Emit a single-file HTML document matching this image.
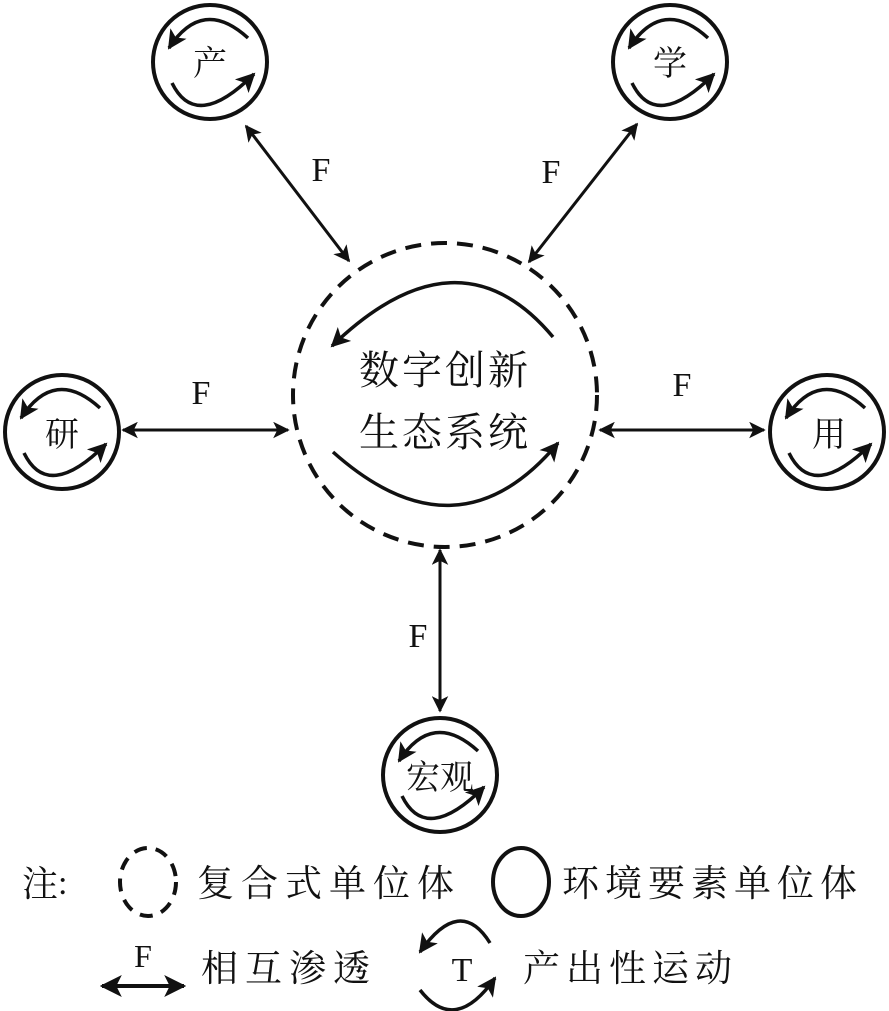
<!DOCTYPE html>
<html><head><meta charset="utf-8"><style>
html,body{margin:0;padding:0;background:#fff;}
svg{display:block;}
text{font-family:"Liberation Serif","Noto Serif CJK SC","Noto Sans CJK SC",serif;fill:#111;}
</style></head><body>
<svg width="889" height="1011" viewBox="0 0 889 1011" xmlns="http://www.w3.org/2000/svg">
<defs>
<marker id="ah" viewBox="0 0 10 10" refX="9" refY="5" markerWidth="5.5" markerHeight="5.5" orient="auto-start-reverse" markerUnits="strokeWidth">
<path d="M0,0 L10,5 L0,10 L2.5,5 z" fill="#111"/>
</marker>
<g id="node">
<circle cx="0" cy="0" r="57" fill="none" stroke="#111" stroke-width="4"/>
<path d="M38,-24 Q-7.5,-65.5 -41,-14" fill="none" stroke="#111" stroke-width="3.5" marker-end="url(#ah)"/>
<path d="M-38,21 Q-14,70 44,12" fill="none" stroke="#111" stroke-width="3.5" marker-end="url(#ah)"/>
</g>
</defs>
<g stroke="#111" stroke-width="3" fill="none">
<line x1="246" y1="126" x2="349" y2="261" marker-start="url(#ah)" marker-end="url(#ah)"/>
<line x1="637" y1="124" x2="529" y2="262" marker-start="url(#ah)" marker-end="url(#ah)"/>
<line x1="123" y1="430" x2="288" y2="430" marker-start="url(#ah)" marker-end="url(#ah)"/>
<line x1="600" y1="430" x2="764" y2="430" marker-start="url(#ah)" marker-end="url(#ah)"/>
<line x1="440" y1="550" x2="440" y2="711" marker-start="url(#ah)" marker-end="url(#ah)"/>
</g>
<circle cx="445" cy="395" r="152" fill="none" stroke="#111" stroke-width="4" stroke-dasharray="16,10"/>
<path d="M553,337 Q458.5,224 332,346" fill="none" stroke="#111" stroke-width="3.5" marker-end="url(#ah)"/>
<path d="M333,452 Q457.5,563 558,443" fill="none" stroke="#111" stroke-width="3.5" marker-end="url(#ah)"/>
<text x="445" y="384" font-size="40" text-anchor="middle" letter-spacing="3">数字创新</text>
<text x="445" y="446" font-size="40" text-anchor="middle" letter-spacing="3">生态系统</text>
<use href="#node" x="210" y="62"/>
<use href="#node" x="670" y="62"/>
<use href="#node" x="62" y="432"/>
<use href="#node" x="827" y="432"/>
<use href="#node" x="440" y="775"/>
<text x="210" y="75" font-size="34" text-anchor="middle">产</text>
<text x="670" y="75" font-size="34" text-anchor="middle">学</text>
<text x="62" y="446" font-size="34" text-anchor="middle">研</text>
<text x="829" y="446" font-size="34" text-anchor="middle">用</text>
<text x="440" y="789" font-size="34" text-anchor="middle">宏观</text>
<g font-size="34" text-anchor="middle">
<text x="321" y="181">F</text>
<text x="551" y="183">F</text>
<text x="201" y="404">F</text>
<text x="682" y="396">F</text>
<text x="418" y="647">F</text>
</g>
<text x="22" y="896" font-size="36">注</text>
<text x="58" y="894" font-size="34">:</text>
<ellipse cx="148" cy="882" rx="28" ry="34" fill="none" stroke="#111" stroke-width="4" stroke-dasharray="13,9"/>
<text x="197" y="896" font-size="37" letter-spacing="7">复合式单位体</text>
<ellipse cx="521" cy="882" rx="28" ry="34" fill="none" stroke="#111" stroke-width="4"/>
<text x="562" y="896" font-size="37" letter-spacing="6">环境要素单位体</text>
<text x="143" y="967" font-size="32" text-anchor="middle">F</text>
<line x1="102" y1="986" x2="184" y2="986" stroke="#111" stroke-width="4" marker-start="url(#ah)" marker-end="url(#ah)"/>
<text x="201" y="981" font-size="37" letter-spacing="7">相互渗透</text>
<path d="M490,943 Q460,895 420,952" fill="none" stroke="#111" stroke-width="3.5" marker-end="url(#ah)"/>
<path d="M420,990 Q455,1035 495,978" fill="none" stroke="#111" stroke-width="3.5" marker-end="url(#ah)"/>
<text x="462" y="981" font-size="34" text-anchor="middle">T</text>
<text x="523" y="981" font-size="37" letter-spacing="6">产出性运动</text>
</svg>
</body></html>
